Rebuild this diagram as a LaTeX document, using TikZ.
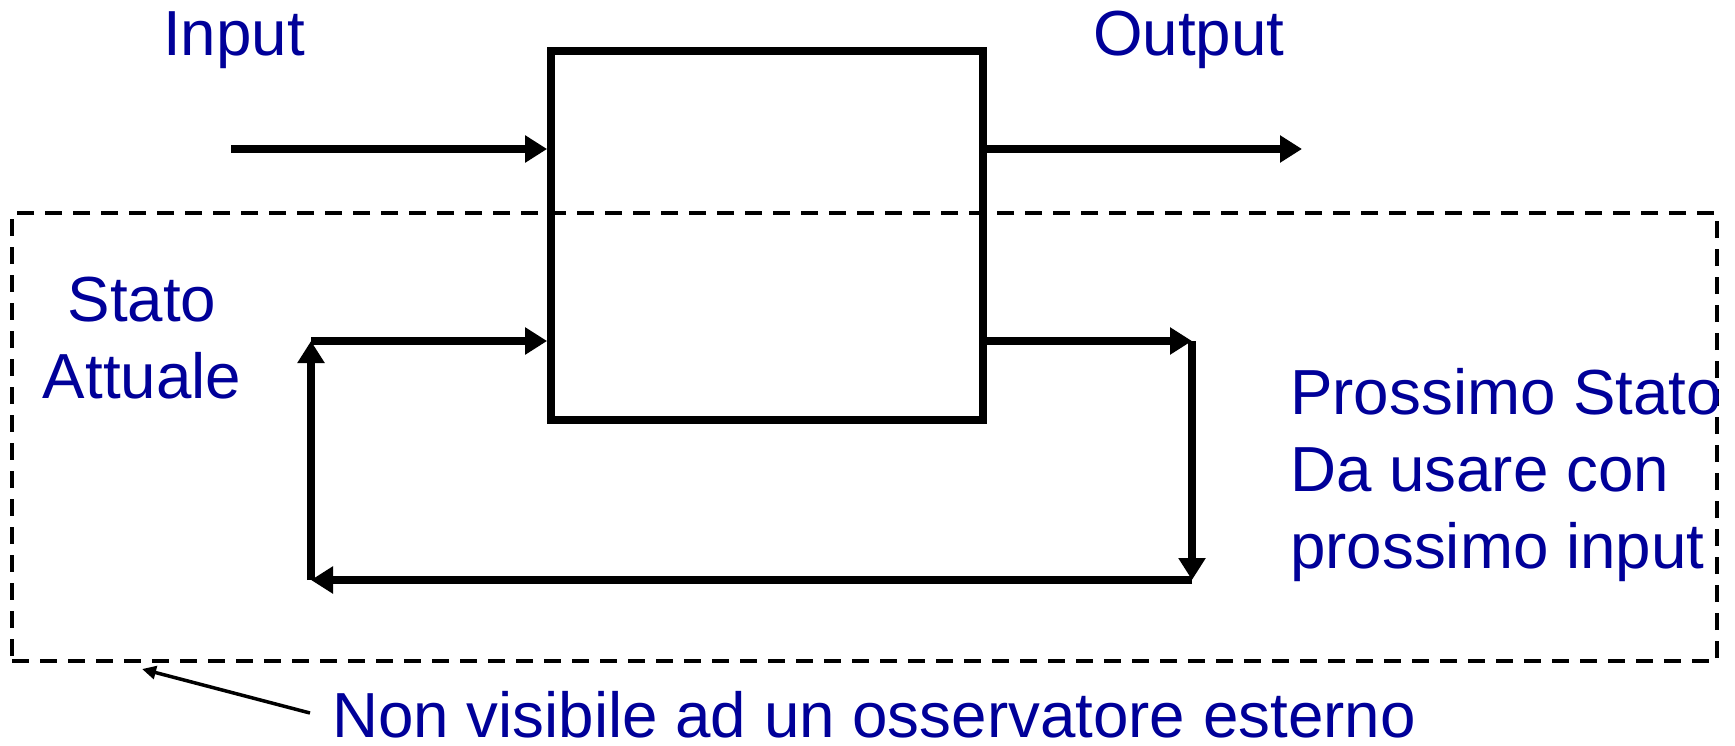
\documentclass[tikz,border=0pt]{standalone}
\usepackage{fontspec}
\setmainfont{Liberation Sans}
\usetikzlibrary{arrows.meta}
\definecolor{labelblue}{RGB}{0,0,153}
\begin{document}
\begin{tikzpicture}[x=1pt,y=-1pt,
  wire/.style={line width=7.8pt,-{Triangle[length=22pt,width=26pt]}},
  label/.style={inner sep=0pt,text=labelblue,font=\fontsize{63.7}{77}\selectfont},
  hidden/.style={draw,line width=3.5pt,dash pattern=on 17pt off 11pt,inner sep=0pt},
  machine/.style={draw,line width=7.8pt,inner sep=0pt,minimum width=432pt,minimum height=369pt}]
\useasboundingbox (0,0) rectangle (1735,745);

% region not visible from outside
\node[hidden,minimum width=1705pt,minimum height=448pt] (hid) at (864.5,437) {};

% the machine
\node[machine] (m) at (767,235.5) {};

% input / output
\coordinate (inS) at (231,149);
\coordinate (outE) at (1302,149);
\draw[wire] (inS) -- (m.west |- inS);
\draw[wire] (m.east |- outE) -- (outE);

% state feedback loop
\coordinate (tl) at (311,341);
\coordinate (tr) at (1192,341);
\coordinate (br) at (1192,580);
\coordinate (bl) at (311,580);
\draw[wire] (m.east |- tr) -- (tr);
\draw[wire] (tr) -- (br);
\draw[wire] (br) -- (bl);
\draw[wire] (bl) -- (tl);
\draw[wire] (tl) -- (m.west |- tl);

% labels (multi-line nodes are anchored on their last line)
\node[label,anchor=base west] (inl) at (163,55) {Input};
\node[label,anchor=base west] (outl) at (1093,55) {Output};
\node[label,align=center,anchor=base] (cur) at (142,398) {Stato\\Attuale};
\node[label,align=left,anchor=base west] (nxt) at (1290,568) {Prossimo Stato\\Da usare con\\prossimo input};
\node[label,anchor=base west] (note) at (332,737) {Non visibile ad un osservatore esterno};

% pointer to the hidden region
\coordinate (pt) at (142,669);
\draw[line width=3.5pt,-{Triangle[length=14pt,width=13pt]}] (310,713) -- (pt);
\end{tikzpicture}
\end{document}
